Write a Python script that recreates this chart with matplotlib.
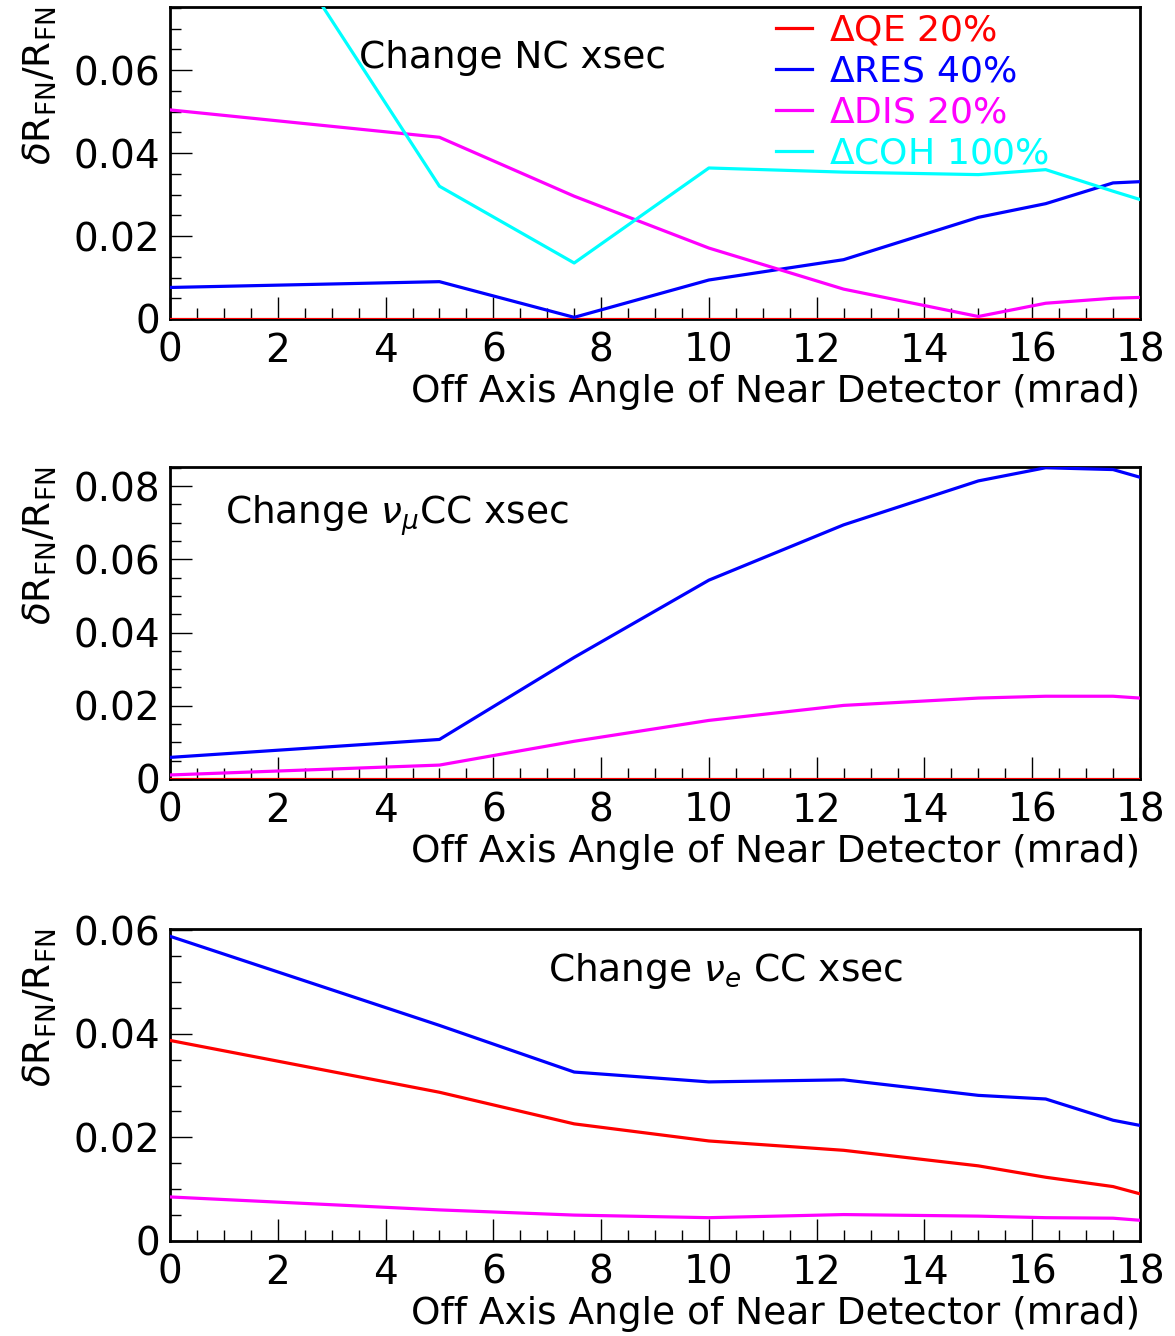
import matplotlib
matplotlib.use('Agg')
import matplotlib.pyplot as plt
from matplotlib.ticker import MultipleLocator, FuncFormatter

plt.rcParams['font.family'] = ['DejaVu Sans']
plt.rcParams['mathtext.fontset'] = 'dejavusans'

# off-axis angle (mrad)
angle = [0, 5, 7.5, 10, 12.5, 15, 16.25, 17.5, 18]

# NC xsec change
nc_qe = [0, 0, 0, 0, 0, 0, 0, 0, 0]
nc_res = [0.0076, 0.0090, 0.0004, 0.0094, 0.0143, 0.0245, 0.0278, 0.0328, 0.0331]
nc_dis = [0.0504, 0.0438, 0.0296, 0.0171, 0.0072, 0.0006, 0.0038, 0.0050, 0.0052]
nc_coh = [0.132, 0.0320, 0.0135, 0.0364, 0.0354, 0.0348, 0.0360, 0.0308, 0.0288]

# numu CC xsec change
mu_qe = [0, 0, 0, 0, 0, 0, 0, 0, 0]
mu_res = [0.0059, 0.0108, 0.0332, 0.0543, 0.0694, 0.0814, 0.0850, 0.0845, 0.0824]
mu_dis = [0.0011, 0.0038, 0.0103, 0.0160, 0.0201, 0.0221, 0.0226, 0.0226, 0.0221]

# nue CC xsec change
e_qe = [0.0387, 0.0287, 0.0226, 0.0193, 0.0175, 0.0145, 0.0123, 0.0105, 0.0091]
e_res = [0.0588, 0.0416, 0.0326, 0.0307, 0.0311, 0.0281, 0.0274, 0.0233, 0.0223]
e_dis = [0.0085, 0.0060, 0.0050, 0.0045, 0.0051, 0.0048, 0.0045, 0.0044, 0.0040]

labels = [r'$\Delta$QE 20%', r'$\Delta$RES 40%', r'$\Delta$DIS 20%', r'$\Delta$COH 100%']
colors = ['#ff0000', '#0000ff', '#ff00ff', '#00ffff']

fig = plt.figure(figsize=(11.75, 13.36), dpi=100)
W, H = 1175, 1336
fs = 28

panels = [
    (319, 0.0752, [nc_qe, nc_res, nc_dis, nc_coh], 'Change NC xsec', (0.195, 0.835)),
    (779, 0.0852, [mu_qe, mu_res, mu_dis], r'Change $\nu_{\mu}$CC xsec', (0.057, 0.845)),
    (1241, 0.0602, [e_qe, e_res, e_dis], r'Change $\nu_{e}$ CC xsec', (0.39, 0.865)),
]

for bottom_px, ymax, series, title, tpos in panels:
    ax = fig.add_axes([170 / W, (H - bottom_px) / H, 970 / W, 312 / H])
    for ys, c, lab in zip(series, colors, labels):
        ax.plot(angle, ys, color=c, lw=2.3, label=lab, zorder=3)
    ax.set_xlim(0, 18)
    ax.set_ylim(0, ymax)
    ax.xaxis.set_major_locator(MultipleLocator(2))
    ax.xaxis.set_minor_locator(MultipleLocator(0.5))
    ax.yaxis.set_major_locator(MultipleLocator(0.02))
    ax.yaxis.set_minor_locator(MultipleLocator(0.005))
    ax.yaxis.set_major_formatter(FuncFormatter(lambda v, p: '0' if abs(v) < 1e-9 else f'{v:.2f}'))
    ax.tick_params(which='both', direction='in', top=False, right=False, labelsize=fs, width=1)
    ax.tick_params(which='major', length=16)
    ax.tick_params(which='minor', length=8)
    ax.tick_params(axis='x', pad=9)
    ax.tick_params(axis='y', pad=7)
    for sp in ax.spines.values():
        sp.set_linewidth(2)
    ax.text(tpos[0], tpos[1], title, transform=ax.transAxes, fontsize=fs - 1,
            ha='left', va='center')
    ax.text(1.0, -0.234, 'Off Axis Angle of Near Detector (mrad)', transform=ax.transAxes,
            fontsize=27, ha='right', va='center')
    ax.text(-0.134, 1.0, r'$\delta \mathrm{R}_{\rm FN}/\mathrm{R}_{\rm FN}$', transform=ax.transAxes,
            fontsize=fs - 1, rotation=90, ha='center', va='top')
    if len(series) == 4:
        ax.legend(loc='upper left', bbox_to_anchor=(0.625, 0.98), frameon=False,
                  fontsize=fs - 2, labelcolor='linecolor', handlelength=1.0,
                  handletextpad=0.45, labelspacing=0.2, borderpad=0, borderaxespad=0)

fig.savefig('out.png', dpi=100)
